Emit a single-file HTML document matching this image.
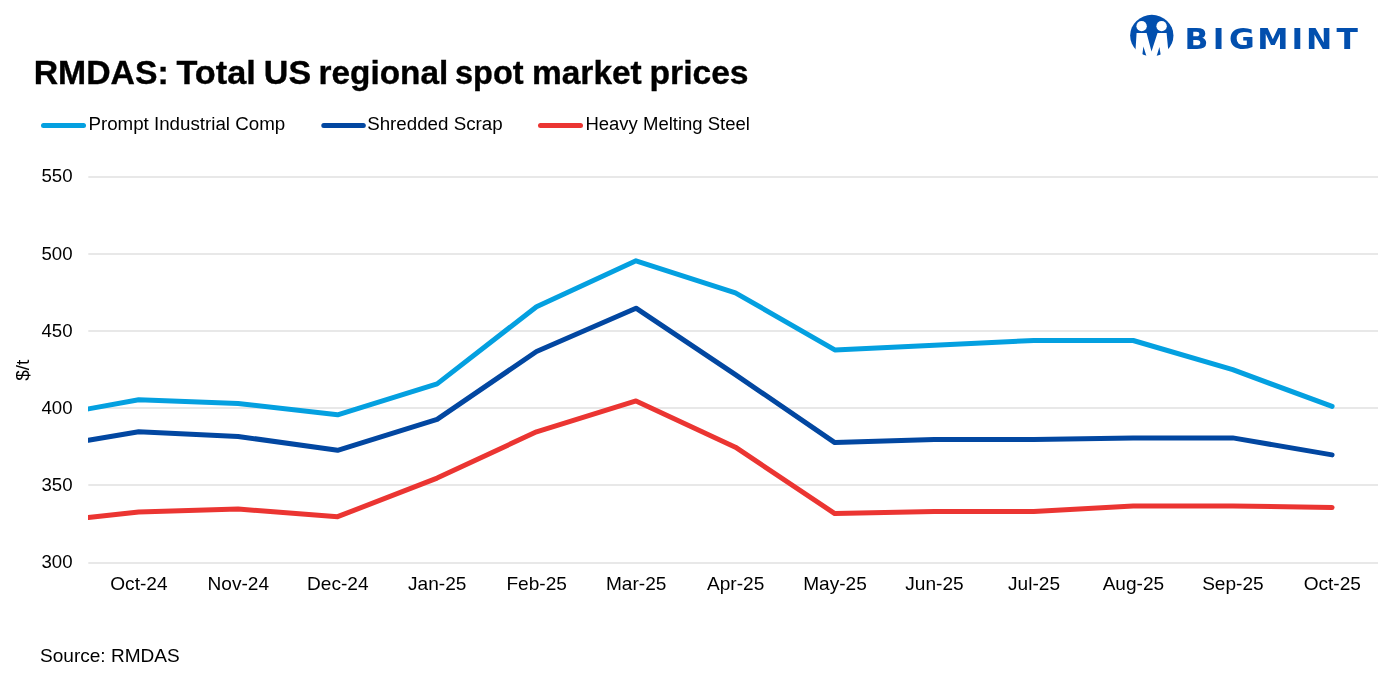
<!DOCTYPE html>
<html lang="en">
<head>
<meta charset="utf-8">
<title>RMDAS: Total US regional spot market prices</title>
<style>
html,body{margin:0;padding:0;background:#fff;}
body{width:1378px;height:682px;overflow:hidden;position:relative;font-family:"Liberation Sans",Arial,sans-serif;}
svg{position:absolute;left:0;top:0;display:block;}
text{font-family:"Liberation Sans",Arial,sans-serif;fill:#000;}
.ax{font-size:17.6px;}
.ttl{font-size:32.6px;font-weight:700;fill:#000;stroke:#000;stroke-width:0.35px;}
.lg{font-size:17.6px;}
.logo{font-family:"DejaVu Sans","Liberation Sans",sans-serif;font-size:28.5px;font-weight:700;fill:#024fae;}
</style>
</head>
<body>
<svg width="1378" height="682" viewBox="0 0 1378 682">
<rect width="1378" height="682" fill="#ffffff"/>
<!-- logo -->
<g id="logo">
<ellipse cx="1151.8" cy="35.55" rx="21.65" ry="20.75" fill="#024fae"/>
<ellipse cx="1141.6" cy="26.2" rx="5.2" ry="5.1" fill="#fff"/>
<ellipse cx="1161.6" cy="26.2" rx="5.2" ry="5.1" fill="#fff"/>
<path d="M1136.6 32.9 L1146.6 32.9 L1151.5 51.6 L1157.5 32.9 L1166.6 32.9 L1169 58 L1161.2 58 L1159.4 46.9 L1156.1 58 L1147 58 L1143.4 46.6 L1141.9 58 L1135 58 Z" fill="#fff"/>
<text transform="scale(1.1,1)" x="1076.92 1102.48 1117.37 1143.05 1174.11 1187.35 1215.06" y="49.4" class="logo">BIGMINT</text>
</g>
<text y="83.6" class="ttl"><tspan x="33.68" textLength="134.98" lengthAdjust="spacingAndGlyphs">RMDAS:</tspan> <tspan x="176.44" textLength="79.33" lengthAdjust="spacingAndGlyphs">Total</tspan> <tspan x="263.87" textLength="47.29" lengthAdjust="spacingAndGlyphs">US</tspan> <tspan x="318.55" textLength="129.72" lengthAdjust="spacingAndGlyphs">regional</tspan> <tspan x="455.00" textLength="68.58" lengthAdjust="spacingAndGlyphs">spot</tspan> <tspan x="532.05" textLength="109.66" lengthAdjust="spacingAndGlyphs">market</tspan> <tspan x="649.54" textLength="99.05" lengthAdjust="spacingAndGlyphs">prices</tspan></text>
<!-- legend -->
<g stroke-width="5" stroke-linecap="round">
<line x1="43.5" y1="125.4" x2="83.5" y2="125.4" stroke="#04a0e0"/>
<line x1="323.8" y1="125.4" x2="363.3" y2="125.4" stroke="#0247a1"/>
<line x1="540.5" y1="125.4" x2="580.5" y2="125.4" stroke="#eb3532"/>
</g>
<text transform="translate(88.4,130.4) scale(1.065,1)" class="lg">Prompt Industrial Comp</text>
<text transform="translate(367.2,130.4) scale(1.065,1)" class="lg">Shredded Scrap</text>
<text transform="translate(585.4,130.4) scale(1.052,1)" class="lg">Heavy Melting Steel</text>
<!-- grid -->
<line x1="88.3" y1="177.0" x2="1378" y2="177.0" stroke="#e0e0e0" stroke-width="1.7"/>
<line x1="88.3" y1="254.0" x2="1378" y2="254.0" stroke="#e0e0e0" stroke-width="1.7"/>
<line x1="88.3" y1="331.0" x2="1378" y2="331.0" stroke="#e0e0e0" stroke-width="1.7"/>
<line x1="88.3" y1="408.0" x2="1378" y2="408.0" stroke="#e0e0e0" stroke-width="1.7"/>
<line x1="88.3" y1="485.0" x2="1378" y2="485.0" stroke="#e0e0e0" stroke-width="1.7"/>
<line x1="88.3" y1="563.0" x2="1378" y2="563.0" stroke="#e0e0e0" stroke-width="1.7"/>

<text transform="translate(72.6,182.4) scale(1.06,1)" text-anchor="end" class="ax">550</text>
<text transform="translate(72.6,259.6) scale(1.06,1)" text-anchor="end" class="ax">500</text>
<text transform="translate(72.6,336.8) scale(1.06,1)" text-anchor="end" class="ax">450</text>
<text transform="translate(72.6,414.0) scale(1.06,1)" text-anchor="end" class="ax">400</text>
<text transform="translate(72.6,491.2) scale(1.06,1)" text-anchor="end" class="ax">350</text>
<text transform="translate(72.6,568.4) scale(1.06,1)" text-anchor="end" class="ax">300</text>

<text transform="translate(138.9,589.5) scale(1.085,1)" text-anchor="middle" class="ax">Oct-24</text>
<text transform="translate(238.3,589.5) scale(1.085,1)" text-anchor="middle" class="ax">Nov-24</text>
<text transform="translate(337.8,589.5) scale(1.085,1)" text-anchor="middle" class="ax">Dec-24</text>
<text transform="translate(437.2,589.5) scale(1.085,1)" text-anchor="middle" class="ax">Jan-25</text>
<text transform="translate(536.7,589.5) scale(1.085,1)" text-anchor="middle" class="ax">Feb-25</text>
<text transform="translate(636.2,589.5) scale(1.085,1)" text-anchor="middle" class="ax">Mar-25</text>
<text transform="translate(735.6,589.5) scale(1.085,1)" text-anchor="middle" class="ax">Apr-25</text>
<text transform="translate(835.0,589.5) scale(1.085,1)" text-anchor="middle" class="ax">May-25</text>
<text transform="translate(934.5,589.5) scale(1.085,1)" text-anchor="middle" class="ax">Jun-25</text>
<text transform="translate(1034.0,589.5) scale(1.085,1)" text-anchor="middle" class="ax">Jul-25</text>
<text transform="translate(1133.4,589.5) scale(1.085,1)" text-anchor="middle" class="ax">Aug-25</text>
<text transform="translate(1232.9,589.5) scale(1.085,1)" text-anchor="middle" class="ax">Sep-25</text>
<text transform="translate(1332.3,589.5) scale(1.085,1)" text-anchor="middle" class="ax">Oct-25</text>

<text transform="translate(29.3,370.2) rotate(-90) scale(1.03,1)" text-anchor="middle" style="font-size:18.5px">$/t</text>
<clipPath id="pc"><rect x="88.0" y="150" width="1300" height="430"/></clipPath>
<g fill="none" stroke-width="5.0" stroke-linejoin="round" stroke-linecap="round" clip-path="url(#pc)">
<polyline stroke="#eb3532" points="88.3,517.5 138.7,512.0 238.1,509.0 337.6,516.7 437.1,478.1 536.5,431.8 636.0,400.9 735.4,447.2 834.8,513.6 934.3,511.6 1033.8,511.6 1133.2,505.9 1232.7,505.9 1332.1,507.4"/>
<polyline stroke="#0247a1" points="88.3,440.3 138.7,431.8 238.1,436.4 337.6,450.3 437.1,419.4 536.5,351.5 636.0,308.2 735.4,374.6 834.8,442.6 934.3,439.5 1033.8,439.5 1133.2,437.9 1232.7,437.9 1332.1,454.9"/>
<polyline stroke="#04a0e0" points="88.3,408.9 138.7,399.8 238.1,403.5 337.6,414.8 437.1,383.9 536.5,306.7 636.0,260.8 735.4,292.8 834.8,349.9 934.3,345.3 1033.8,340.5 1133.2,340.5 1232.7,369.7 1332.1,406.4"/>
</g>
<text transform="translate(40,661.5) scale(1.083,1)" class="ax">Source: RMDAS</text>
</svg>
</body>
</html>
